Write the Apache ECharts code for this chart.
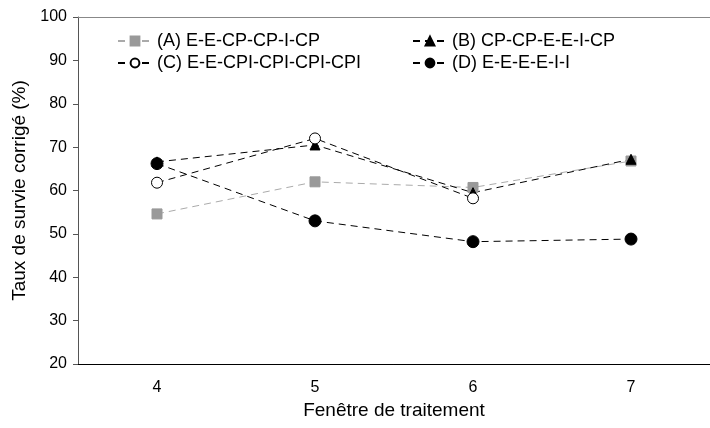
<!DOCTYPE html>
<html><head><meta charset="utf-8">
<script src="https://cdn.jsdelivr.net/npm/echarts@6/dist/echarts.min.js"></script>
<style>html,body{margin:0;padding:0;background:#fff}#c{width:710px;height:428px}</style>
</head><body><div id="c"></div>
<script>
const categories = ['4', '5', '6', '7'];
const seriesNames = ['(A) E-E-CP-CP-I-CP', '(B) CP-CP-E-E-I-CP', '(C) E-E-CPI-CPI-CPI-CPI', '(D) E-E-E-E-I-I'];
const valuesA = [54.6, 62.0, 60.7, 66.8];
const valuesB = [66.6, 70.5, 59.5, 67.2];
const valuesC = [61.8, 72.0, 58.2, null];
const valuesD = [66.2, 53.0, 48.2, 48.8];
const yTicks = { min: 20, max: 100, interval: 10 };

const font = 'Liberation Sans, Arial, sans-serif';
const chart = echarts.init(document.getElementById('c'));
function mk(name, data, symbol, size, color, lineColor, fill) {
  return {
    name, type: 'line', data, symbol, symbolSize: size,
    lineStyle: { color: lineColor, width: 1, type: [7, 5] },
    itemStyle: { color: fill, borderColor: color, borderWidth: 1 },
    emphasis: { disabled: true }, animation: false, z: 3
  };
}
const legendText = { fontFamily: font, fontSize: 18, color: '#000', padding: [0, 0, 0, 0] };
chart.setOption({
  animation: false,
  grid: { left: 78, top: 17, width: 642, bottom: 64 },
  legend: [
    { data: [seriesNames[0], seriesNames[2]], orient: 'vertical', left: 112, top: 27, itemWidth: 34, itemHeight: 11, itemGap: 4,
      textStyle: legendText },
    { data: [seriesNames[1], seriesNames[3]], orient: 'vertical', left: 407, top: 27, itemWidth: 34, itemHeight: 11, itemGap: 4,
      textStyle: legendText }
  ],
  xAxis: [{
    type: 'category', data: categories, boundaryGap: true,
    name: 'Fenêtre de traitement', nameLocation: 'middle', nameGap: 36,
    nameTextStyle: { fontFamily: font, fontSize: 19, color: '#000' },
    axisLine: { lineStyle: { color: '#000', width: 1 } },
    axisTick: { length: 4, lineStyle: { color: '#000' } },
    axisLabel: { fontFamily: font, fontSize: 16, color: '#000', margin: 16 }
  }, {
    type: 'category', data: categories, position: 'top',
    axisLine: { lineStyle: { color: '#888', width: 1 } },
    axisTick: { show: false }, axisLabel: { show: false }
  }],
  yAxis: {
    type: 'value', min: yTicks.min, max: yTicks.max, interval: yTicks.interval,
    name: 'Taux de survie corrigé (%)', nameLocation: 'middle', nameGap: 43,
    nameTextStyle: { fontFamily: font, fontSize: 19, color: '#000' },
    axisLine: { show: true, lineStyle: { color: '#555', width: 1 } },
    axisTick: { show: true, length: 5, lineStyle: { color: '#555' } },
    axisLabel: { fontFamily: font, fontSize: 16, color: '#000', margin: 11 },
    splitLine: { show: false }
  },
  series: [
    mk(seriesNames[0], valuesA, 'rect', 10, '#999', '#aaa', '#999'),
    mk(seriesNames[1], valuesB, 'triangle', 10, '#000', '#000', '#000'),
    mk(seriesNames[2], valuesC, 'circle', 11, '#000', '#000', '#fff'),
    mk(seriesNames[3], valuesD, 'circle', 12, '#000', '#000', '#000')
  ]
});
</script></body></html>
